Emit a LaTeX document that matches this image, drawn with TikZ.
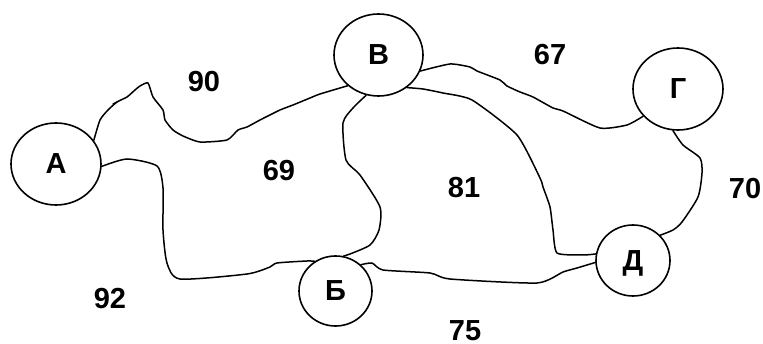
\documentclass[tikz,border=0pt]{standalone}
\usepackage{fontspec}
\setmainfont{Liberation Sans}
\usetikzlibrary{shapes.geometric}
\begin{document}
\begin{tikzpicture}[x=1pt,y=-1pt,
  town/.style={ellipse,draw,line width=1.6pt,inner sep=0pt,text depth=0pt,
    font=\fontsize{29}{34}\selectfont\bfseries},
  num/.style={inner sep=0pt,font=\fontsize{29}{34}\selectfont\bfseries},
  road/.style={line width=1.5pt,line join=round,line cap=round}]
\useasboundingbox (0,0) rectangle (763,344);

% towns
\node[town,minimum width=90pt,minimum height=82pt] (A) at (56,164) {А};
\node[town,minimum width=89pt,minimum height=82pt] (V) at (378.5,55) {В};
\node[town,minimum width=90pt,minimum height=82pt] (G) at (678,89) {Г};
\node[town,minimum width=73pt,minimum height=70pt] (B) at (335.5,291) {Б};
\node[town,minimum width=74pt,minimum height=71pt] (D) at (633,260.5) {Д};

% roads between towns
\draw[road] plot[smooth,tension=0.35] coordinates {(A.32) (100,120) (108,110)
  (117,102) (127,97) (135,90) (140,86) (148,83) (153,97) (163,110) (165,120)
  (173,130) (183,136) (200,142) (227,140) (238,130) (247,127) (260,120)
  (280,110) (293,105) (310,98) (320,94) (V.-135)};
\draw[road] (117,102) -- (113,104);
\draw[road] plot[smooth,tension=0.35] coordinates {(V.-21) (450,64) (470,67)
  (477,71) (500,80) (507,86) (520,92) (533,97) (553,108) (563,111) (600,128)
  (627,125) (G.-142)};
\draw[road] plot[smooth,tension=0.35] coordinates {(V.-49) (423,89) (443,93)
  (472,100) (517,135) (540,178) (543,187) (550,207) (553,230) (557,253)
  (583,255) (D.170)};
\draw[road] plot[smooth,tension=0.4] coordinates {(V.-107) (353,108) (343,123)
  (346,160) (360,175) (380,207) (379,230) (370,245) (350,254) (B.77)};
\draw[road] plot[smooth,tension=0.4] coordinates {(A.-3) (127,159) (157,166)
  (163,188) (163,230) (167,263) (180,279) (247,274) (270,267) (277,263)
  (307,261) (B.125)};
\draw[road] plot[smooth,tension=0.35] coordinates {(B.46) (372,263) (383,270)
  (430,273) (450,279) (537,283) (563,272) (577,268) (D.-177)};
\draw[road] plot[smooth,tension=0.4] coordinates {(G.-97) (683,145) (700,158)
  (702,173) (698,197) (682,222) (673,230) (D.43)};

% distances
\node[num] (l90) at (204,82) {90};
\node[num] (l67) at (550,55) {67};
\node[num] (l70) at (745,189) {70};
\node[num] (l69) at (279,171) {69};
\node[num] (l81) at (464,188) {81};
\node[num] (l92) at (110,299) {92};
\node[num] (l75) at (465,331) {75};
\end{tikzpicture}
\end{document}
